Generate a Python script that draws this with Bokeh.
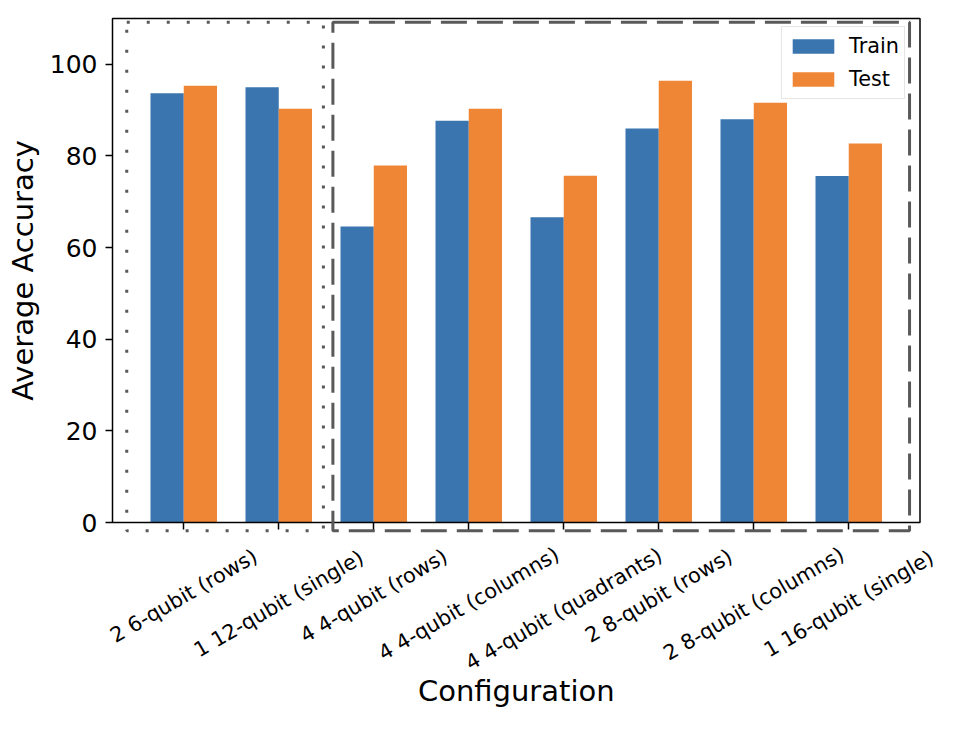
import math

from bokeh.core.properties import value
from bokeh.embed import file_html
from bokeh.models import FixedTicker, Legend, LegendItem, Range1d
from bokeh.plotting import figure
from bokeh.resources import INLINE

# ---- data -------------------------------------------------------------
configs = [
    "2 6-qubit (rows)",
    "1 12-qubit (single)",
    "4 4-qubit (rows)",
    "4 4-qubit (columns)",
    "4 4-qubit (quadrants)",
    "2 8-qubit (rows)",
    "2 8-qubit (columns)",
    "1 16-qubit (single)",
]
train_acc = [93.7, 95.0, 64.6, 87.7, 66.6, 86.0, 88.0, 75.6]
test_acc = [95.3, 90.3, 77.9, 90.3, 75.7, 96.4, 91.6, 82.7]
y_ticks = [0, 20, 40, 60, 80, 100]

# configurations grouped by total qubit count (first index, last index)
group_12q = (0, 1)
group_16q = (2, 7)

# ---- styling ----------------------------------------------------------
FONT = "DejaVu Sans"
BLUE = "#3a75af"
ORANGE = "#ef8636"
BOX_GREY = "#595959"
BAR_W = 0.35
TICK_PX = 20.8      # category label size
W, H = 960, 732

# axes box (pixels on the canvas) and its data limits
AX_L, AX_R, AX_T, AX_B = 112, 919.5, 18, 522
xlim = (-0.75, len(configs) - 0.25)
ylim = (0, 110)
px_x = (AX_R - AX_L) / (xlim[1] - xlim[0])
px_y = (AX_B - AX_T) / (ylim[1] - ylim[0])

# the frame spans the whole canvas so that rotated labels and the group
# outlines may sit outside the axes box without being clipped
p = figure(
    width=W, height=H,
    x_range=Range1d(xlim[0] - AX_L / px_x, xlim[1] + (W - AX_R) / px_x),
    y_range=Range1d(ylim[0] - (H - AX_B) / px_y, ylim[1] + AX_T / px_y),
    output_backend="svg", toolbar_location=None, min_border=0,
)
p.background_fill_color = "white"
p.border_fill_color = "white"
p.outline_line_color = None
p.xgrid.grid_line_color = None
p.ygrid.grid_line_color = None

x = list(range(len(configs)))
x_train = [i - BAR_W / 2 for i in x]
x_test = [i + BAR_W / 2 for i in x]

r_train = p.vbar(x=x_train, top=train_acc, width=BAR_W, fill_color=BLUE, line_color=None)
r_test = p.vbar(x=x_test, top=test_acc, width=BAR_W, fill_color=ORANGE, line_color=None)

# ---- axes (pinned to the axes box) --------------------------------------
for ax in (p.xaxis[0], p.yaxis[0]):
    ax.axis_line_color = None
    ax.major_tick_line_color = "black"
    ax.major_tick_line_width = 1.5
    ax.major_tick_in = 0
    ax.major_tick_out = 7
    ax.minor_tick_line_color = None
    ax.major_label_text_font = FONT
    ax.major_label_text_color = "black"

p.yaxis.fixed_location = xlim[0]
p.yaxis.bounds = ylim
p.yaxis.ticker = FixedTicker(ticks=y_ticks)
p.yaxis.major_label_text_font_size = "25px"
p.yaxis.major_label_standoff = 8

p.xaxis.fixed_location = ylim[0]
p.xaxis.bounds = xlim
p.xaxis.ticker = FixedTicker(ticks=x)
p.xaxis.major_label_overrides = {i: "" for i in x}

# spines
p.quad(left=[xlim[0]], right=[xlim[1]], bottom=[ylim[0]], top=[ylim[1]],
       fill_color=None, line_color="black", line_width=1.5)

# rotated category names, centred under each tick; the offset keeps the
# top of each rotated label a fixed distance below the axis
est_len = [len(t) * 0.505 * TICK_PX for t in configs]
label_dy = [21 + (0.5 * L + 0.866 * 24) / 2 for L in est_len]
p.text(x=x, y=[ylim[0]] * len(x), text=configs, y_offset=label_dy,
       angle=math.radians(30), text_align="center", text_baseline="middle",
       text_font=value(FONT), text_font_size=f"{TICK_PX}px", text_color="black")

# axis titles
p.text(x=[sum(xlim) / 2], y=[ylim[0]], text=["Configuration"], y_offset=168,
       text_align="center", text_baseline="middle",
       text_font=value(FONT), text_font_size="29px", text_color="black")
p.text(x=[xlim[0]], y=[sum(ylim) / 2], text=["Average Accuracy"], x_offset=-90,
       angle=math.pi / 2, text_align="center", text_baseline="middle",
       text_font=value(FONT), text_font_size="29px", text_color="black")

# ---- group outlines -----------------------------------------------------
box_bottom, box_top = -1.8, 109.2
p.quad(left=[group_12q[0] - 0.6], right=[group_12q[1] + 0.47],
       bottom=[box_bottom], top=[box_top], fill_color=None,
       line_color=BOX_GREY, line_width=3, line_dash="3 17", line_cap="butt")
p.quad(left=[group_16q[0] - 0.43], right=[group_16q[1] + 0.64],
       bottom=[box_bottom], top=[box_top], fill_color=None,
       line_color=BOX_GREY, line_width=3, line_dash="26 10", line_cap="butt")

# ---- legend -------------------------------------------------------------
legend = Legend(
    items=[LegendItem(label="Train", renderers=[r_train]),
           LegendItem(label="Test", renderers=[r_test])],
    location=(781, H - 99), padding=5, spacing=5,
    glyph_width=52, glyph_height=18, label_height=28, label_standoff=10,
    label_text_font=FONT, label_text_font_size="20.8px", label_text_color="black",
    border_line_color="#cccccc", border_line_width=1,
    background_fill_color="white", background_fill_alpha=0.8,
)
p.add_layout(legend)

open("out.html", "w").write(file_html(p, INLINE))
